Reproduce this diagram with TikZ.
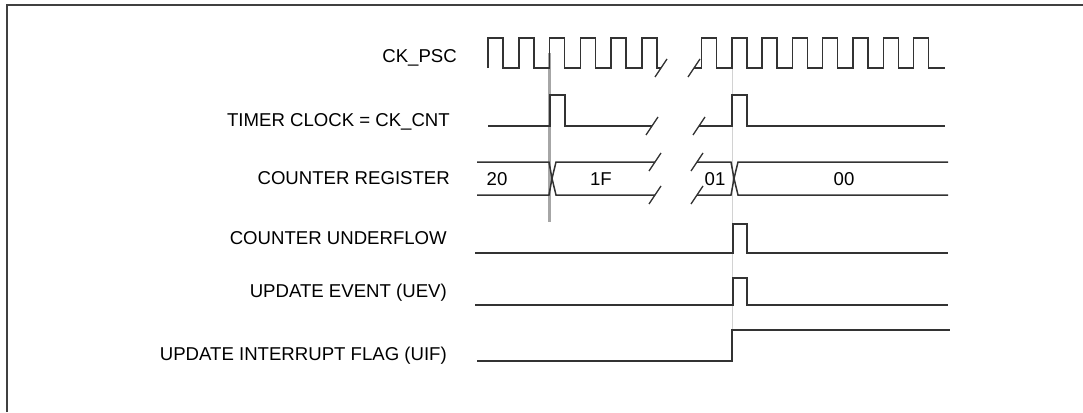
\documentclass[tikz,border=0pt]{standalone}
\usepackage{fontspec}
\setmainfont{Liberation Sans}
\usepackage{xcolor}
\usepackage{tikz}

\begin{document}
\begin{tikzpicture}[x=1pt, y=-1pt, line join=miter,
        sig/.style={draw=black!80, line width=1.5pt},
        brk/.style={draw=black!80, line width=1.3pt},
        lbl/.style={anchor=east, inner sep=0pt, text height=13.3pt, text depth=0pt,
                    font=\fontsize{18.6}{20}\selectfont},
        val/.style={inner sep=0pt, text height=13.3pt, text depth=0pt,
                    font=\fontsize{18.6}{20}\selectfont}]
        \useasboundingbox (0,0) rectangle (1083,412);
        \draw[line width=2pt, black!75] (7,412) -- (7,5) -- (1083,5);

        \node[lbl] (psc) at (457,56)  {CK\_PSC};
        \node[lbl] (cnt) at (450,120) {TIMER CLOCK = CK\_CNT};
        \node[lbl] (reg) at (450,178) {COUNTER REGISTER};
        \node[lbl] (unf) at (447,238) {COUNTER UNDERFLOW};
        \node[lbl] (uev) at (447,291) {UPDATE EVENT (UEV)};
        \node[lbl] (uif) at (447,354) {UPDATE INTERRUPT FLAG (UIF)};

        % markers
        \draw[gray!70, line width=3pt] (549,53) -- (549,222);
        \draw[gray!35, line width=1pt] (732,67) -- (732,330);

        % CK_PSC
        \draw[sig] (488,68) \foreach \x in {488,518.8,549.6,580.4,611.2,642}
            { -- (\x,68) -- (\x,38) -- (\x+15,38) -- (\x+15,68) } -- (661,68);
        \draw[sig] (694,68) \foreach \x in {701.5,731.8,762.1,792.4,822.7,853,883.3,913.6}
            { -- (\x,68) -- (\x,38) -- (\x+15,38) -- (\x+15,68) } -- (945,68);

        % CK_CNT
        \draw[sig] (488,126) -- (550,126) -- (550,95) -- (565,95) -- (565,126) -- (652,126);
        \draw[sig] (699,126) -- (732,126) -- (732,95) -- (747,95) -- (747,126) -- (945,126);

        % counter register
        \draw[sig] (477,162) -- (549,162) -- (552,178.5) -- (549,195) -- (477,195);
        \draw[sig] (655,162) -- (556,162) -- (552,178.5) -- (556,195) -- (655,195);
        \draw[sig] (697,162) -- (731,162) -- (734,178.5) -- (731,195) -- (697,195);
        \draw[sig] (948,162) -- (738,162) -- (734,178.5) -- (738,195) -- (948,195);
        \node[val] (v20) at (497,178.5) {20};
        \node[val] (v1f) at (601,178.5) {1F};
        \node[val] (v01) at (715,178.5) {01};
        \node[val] (v00) at (844,178.5) {00};

        % breaks
        \foreach \p in {(661,68),(694,68),(652,126),(699,126),(655,162),(655,195),(697,162),(697,195)}
            \draw[brk] \p ++(-6,9) -- ++(12,-18);

        % underflow, UEV, UIF
        \draw[sig] (475,253) -- (733,253) -- (733,224) -- (747,224) -- (747,253) -- (948,253);
        \draw[sig] (475,305) -- (733,305) -- (733,278) -- (747,278) -- (747,305) -- (948,305);
        \draw[sig] (477,361) -- (732,361) -- (732,330) -- (950,330);
\end{tikzpicture}
\end{document}
